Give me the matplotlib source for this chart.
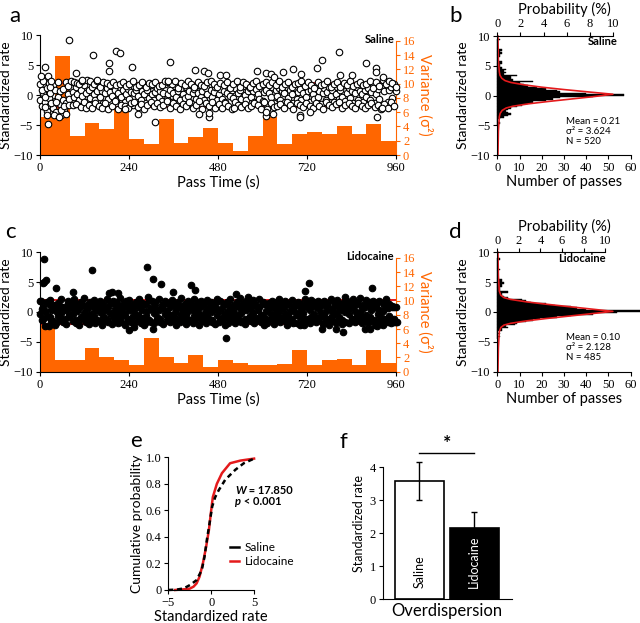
import numpy as np
import matplotlib.pyplot as plt

plt.rcParams['font.family'] = 'serif'
plt.rcParams['font.serif'] = ['Liberation Serif', 'Times New Roman', 'DejaVu Serif']
SANS = ['Lato', 'DejaVu Sans']
SERIF = ['Liberation Serif', 'DejaVu Serif']
ORANGE = '#ff6600'
RED = '#e41a1c'

# ---------- panels a / c : standardized rate per pass ----------
bulk_times = [
    1, 5, 9, 14, 18, 23, 27, 31, 36, 40,
    44, 49, 53, 57, 62, 66, 71, 75, 79, 84,
    88, 92, 97, 101, 106, 110, 114, 119, 123, 127,
    132, 136, 141, 145, 149, 154, 158, 162, 167, 171,
    176, 180, 184, 189, 193, 197, 202, 206, 211, 215,
    219, 224, 228, 232, 237, 241, 246, 250, 254, 259,
    263, 267, 272, 276, 281, 285, 289, 294, 298, 302,
    307, 311, 316, 320, 324, 329, 333, 337, 342, 346,
    351, 355, 359, 364, 368, 372, 377, 381, 386, 390,
    394, 399, 403, 407, 412, 416, 421, 425, 429, 434,
    438, 442, 447, 451, 456, 460, 464, 469, 473, 477,
    482, 486, 491, 495, 499, 504, 508, 512, 517, 521,
    526, 530, 534, 539, 543, 547, 552, 556, 561, 565,
    569, 574, 578, 582, 587, 591, 596, 600, 604, 609,
    613, 617, 622, 626, 631, 635, 639, 644, 648, 652,
    657, 661, 666, 670, 674, 679, 683, 687, 692, 696,
    701, 705, 709, 714, 718, 722, 727, 731, 736, 740,
    744, 749, 753, 757, 762, 766, 771, 775, 779, 784,
    788, 792, 797, 801, 806, 810, 814, 819, 823, 827,
    832, 836, 841, 845, 849, 854, 858, 862, 867, 871,
    876, 880, 884, 889, 893, 897, 902, 906, 911, 915,
    919, 924, 928, 932, 937, 941, 946, 950, 954, 959]

saline_rate_a = [
    -0.8, -1.9, 0.3, -1.2, -2.6, -0.5, -1.7, 0.6, -2.2, -1.0,
    -2.9, -0.4, -1.5, -3.4, -0.9, -2.4, -1.3, 0.2, -0.7, 1.2,
    0.5, -0.3, 1.4, 0.1, -0.9, 0.8, -0.2, 1.6, 0.4, -1.1,
    0.9, -0.5, 1.3, 0.2, -0.8, 0.6, 1.9, -0.3, 0.7, -1.4,
    0.3, 1.1, -0.6, 0.5, -0.2, 1.5, 0.9, -0.9, 0.4, 1.3,
    -0.4, 0.8, -1.1, 0.2, 1.0, -0.7, 0.5, -1.6, 0.3, 0.9,
    -0.2, 1.4, -0.9, 0.6, 0.1, -1.3, 0.8, -0.5, 1.7, 0.2,
    -0.8, 0.5, 1.2, -0.3, 0.7, -1.0, 0.4, 1.8, -0.6, 0.1,
    0.9, -1.2, 0.3, 1.5, -0.4, 0.6, -0.9, 1.1, 0.2, -0.5,
    1.3, -0.2, 0.7, -1.4, 0.4, 1.0, -0.7, 0.3, 1.6, -0.3,
    0.6, -0.9, 1.2, 0.1, -1.5, 0.8, -0.4, 0.5, 1.4, -0.8,
    0.2, 1.0, -0.6, 0.7, -1.1, 0.4, 1.3, -0.2, 0.9, -0.5,
    1.1, -1.3, 0.3, 0.8, -0.7, 1.5, 0.0, -0.9, 0.6, 1.2,
    -0.4, 0.7, -1.2, 1.0, 0.2, -0.6, 1.6, -1.0, 0.5, 0.9,
    -1.8, 0.4, -0.3, 1.3, -1.4, 0.8, -0.2, 1.1, -0.9, 0.6,
    0.3, -1.1, 1.4, -0.5, 0.9, 0.1, -1.3, 1.2, -0.6, 0.5,
    1.0, -0.8, 0.4, 1.7, -0.3, 0.6, -1.2, 0.9, 0.2, -0.7,
    1.2, -0.4, 0.7, -1.5, 0.3, 1.1, -0.9, 0.5, 1.4, -0.2,
    0.8, -1.1, 0.2, 1.3, -0.6, 0.9, -0.3, 1.6, -1.0, 0.4,
    1.1, -0.5, 0.6, -1.3, 0.3, 1.4, -0.8, 0.7, 0.1, -1.2,
    0.9, -0.4, 1.2, -0.9, 0.5, 1.8, -1.4, 0.2, 1.0, -0.6,
    1.5, -1.7, 0.6, 2.1, -1.1, 0.8, 1.3, -0.5, 1.9, 0.7]

saline_rate_b = [
    1.8, 0.9, 2.3, -0.3, 1.1, 2.0, 0.4, -1.4, 1.6, 0.8,
    -1.2, 2.1, 0.7, -2.5, 1.0, -1.8, 2.2, 1.5, -1.6, 2.3,
    -1.7, 2.2, -1.5, 2.0, 1.8, -2.0, 2.4, -1.1, -2.1, 2.5,
    -1.6, 2.3, -2.2, 1.9, -1.3, 2.4, -1.9, 1.4, -2.1, 2.2,
    -1.4, 2.0, -2.3, 1.7, -1.8, 2.1, -1.0, 1.6, -2.4, 1.9,
    -1.7, 2.2, -1.9, 1.5, -2.1, 1.8, -1.4, 2.3, -1.2, 1.3,
    -2.0, 1.6, -1.5, 2.1, -2.3, 1.4, -1.7, 2.0, -1.1, 1.9,
    -1.9, 2.2, -1.3, 1.5, -2.0, 1.7, -1.6, 2.4, -1.0, 2.1,
    -2.2, 1.8, -1.4, 2.3, -1.9, 1.2, -2.3, 2.0, -1.5, 1.6,
    -1.8, 2.4, -1.2, 1.9, -2.1, 1.3, -1.6, 2.2, -1.0, 1.7,
    -2.3, 1.5, -1.4, 2.1, -1.9, 2.3, -1.1, 1.8, -2.2, 1.4,
    -1.5, 2.0, -2.1, 1.6, -1.3, 2.2, -1.8, 1.2, -2.4, 1.9,
    -1.2, 2.3, -1.7, 1.4, -2.0, 2.1, -1.5, 1.8, -2.2, 1.3,
    -1.9, 2.0, -1.4, 2.4, -1.6, 1.5, -2.3, 1.9, -1.1, 2.2,
    -2.4, 1.7, -1.3, 2.1, -2.0, 1.6, -1.8, 2.3, -1.5, 1.4,
    -2.1, 1.9, -1.2, 2.2, -1.7, 1.3, -2.4, 1.8, -1.4, 2.0,
    -1.6, 2.3, -2.0, 1.5, -1.3, 2.1, -1.9, 1.7, -2.2, 1.2,
    -1.4, 2.2, -1.8, 1.6, -2.3, 1.9, -1.1, 2.4, -1.7, 1.3,
    -2.0, 1.8, -1.5, 2.1, -1.2, 1.4, -2.2, 2.0, -1.6, 1.7,
    -1.3, 2.3, -1.9, 1.5, -2.1, 1.8, -1.4, 2.2, -1.8, 1.6,
    -2.2, 1.9, -1.6, 2.4, -1.3, 1.2, -2.0, 2.1, -1.7, 1.5,
    -2.4, 2.5, -1.5, 1.8, -2.1, 2.3, -1.2, 2.0, -1.9, 1.4]

saline_out_t = [2, 13, 22, 27, 30, 22, 13, 20, 38, 51, 78, 70, 96, 112, 143,
                154, 186, 186, 204, 217, 248, 228, 265, 311, 350, 344, 417, 441,
                453, 486, 501, 430, 457, 457, 522, 586, 610, 622, 630, 609, 610,
                627, 656, 681, 704, 700, 700, 728, 746, 760, 806, 809, 842, 879,
                905, 905, 908, 925, 921]
saline_out_r = [3.1, 4.6, 3.2, 1.3, 2.3, -4.8, -2.0, -3.3, -3.3, -3.6, 9.2, -3.1,
                3.7, 2.5, 6.7, 2.5, 5.4, 4.0, 7.4, 7.0, 4.6, -2.4, -3.1, -4.5,
                5.5, 2.3, 4.2, 4.0, 3.6, 3.3, 3.3, -3.2, -3.6, -3.0, -2.2, 4.0,
                3.7, 3.5, 3.0, -3.5, -2.8, -3.1, 3.9, 4.3, 3.5, -3.3, -3.7, -2.8,
                4.5, 5.8, 7.2, 3.3, 3.3, 5.3, 4.5, 3.9, -3.7, 3.0, -2.2]

lido_rate_a = [
    -0.3, 0.5, -1.2, 0.2, -0.6, 1.3, -0.9, 0.4, -1.5, 0.8,
    0.1, -0.7, 1.0, -0.2, 0.6, -1.1, 0.3, 1.4, -0.5, 0.7,
    -0.4, 0.9, -1.3, 0.2, 0.6, -0.8, 1.1, -0.1, 0.5, -1.0,
    0.8, -0.3, 1.2, -0.7, 0.4, -1.4, 0.7, 0.0, 1.0, -0.6,
    0.3, -1.1, 0.9, -0.2, 1.5, -0.8, 0.5, -0.4, 1.2, 0.1,
    -0.9, 0.6, -0.3, 1.1, -1.2, 0.4, 0.8, -0.6, 0.2, 1.3,
    -0.5, 0.9, -1.0, 0.3, 1.4, -0.7, 0.1, -1.3, 0.7, 0.5,
    -0.2, 1.0, -0.8, 0.4, -1.1, 0.6, 1.2, -0.4, 0.2, -0.9,
    0.8, -0.5, 1.1, -0.1, 0.5, -1.2, 0.9, -0.3, 0.3, 1.4,
    -0.7, 0.2, -1.4, 0.7, 0.4, -0.6, 1.0, -0.2, 0.6, -1.0,
    1.2, -0.4, 0.3, -0.9, 0.8, 0.0, -1.3, 0.5, 1.1, -0.5,
    0.4, -1.1, 0.7, -0.3, 1.3, -0.8, 0.2, 0.9, -0.6, 0.1,
    -0.4, 1.0, -0.9, 0.6, -0.2, 1.2, -1.2, 0.3, 0.7, -0.7,
    0.5, -0.1, 1.1, -1.0, 0.3, 0.8, -0.5, 1.4, -0.8, 0.2,
    -1.3, 0.6, -0.4, 0.9, -0.9, 0.1, 1.0, -0.6, 0.4, -1.1,
    0.7, -0.3, 1.3, -0.7, 0.2, -1.2, 0.8, 0.0, -0.5, 1.1,
    -0.9, 0.4, -0.2, 1.0, -1.4, 0.6, 0.3, -0.8, 1.2, -0.4,
    0.9, -1.0, 0.5, -0.3, 1.1, -0.7, 0.2, 1.3, -1.2, 0.4,
    -0.6, 0.8, -0.1, 1.2, -0.9, 0.3, -1.3, 0.7, 0.0, 1.0,
    -0.4, 0.6, -1.1, 0.9, 0.2, -0.7, 1.4, -0.2, 0.5, -1.0,
    0.8, -0.5, 1.1, -0.9, 0.3, 0.6, -1.3, 1.0, -0.3, 0.4,
    -0.8, 0.2, 1.2, -1.1, 0.7, -0.6, -1.5, 0.9, -1.2, -1.7]

lido_rate_b = [
    1.8, -1.4, 0.9, -2.3, 1.6, -0.9, 2.0, -1.7, 1.2, 0.6,
    -1.9, 1.5, -1.1, 2.2, -1.6, 0.8, -2.0, 1.9, -0.8, 1.7,
    -1.5, 2.1, -1.8, 1.3, -2.1, 1.7, -1.2, 2.3, -1.6, 1.1,
    -2.0, 1.6, -1.3, 2.0, -1.9, 1.2, -1.5, 1.8, -2.2, 1.4,
    -1.4, 2.2, -1.7, 1.5, -2.0, 1.9, -1.1, 1.6, -1.8, 2.3,
    -1.6, 1.4, -2.1, 1.8, -1.3, 2.0, -1.7, 1.2, -1.9, 1.7,
    -1.2, 2.1, -1.8, 1.5, -2.2, 1.3, -1.5, 2.0, -1.6, 1.9,
    -1.9, 1.6, -1.3, 2.2, -1.7, 1.1, -2.0, 1.8, -1.4, 1.5,
    -1.7, 2.0, -1.2, 1.4, -2.1, 1.7, -1.6, 2.3, -1.3, 1.2,
    -2.0, 1.8, -1.5, 1.3, -1.8, 2.1, -1.1, 1.6, -2.2, 1.9,
    -1.4, 1.5, -1.9, 2.0, -1.2, 1.7, -1.7, 1.3, -2.0, 2.2,
    -1.6, 1.9, -1.3, 1.4, -2.1, 1.6, -1.8, 2.1, -1.5, 1.2,
    -1.9, 1.7, -1.4, 2.3, -1.6, 1.3, -2.0, 1.8, -1.2, 1.5,
    -1.5, 2.0, -1.9, 1.2, -1.3, 2.2, -1.7, 1.6, -2.1, 1.4,
    -1.8, 1.5, -1.2, 1.9, -2.0, 1.7, -1.4, 2.1, -1.6, 1.3,
    -1.3, 1.8, -2.2, 1.4, -1.5, 2.0, -1.8, 1.2, -1.9, 1.7,
    -2.1, 1.3, -1.6, 2.2, -1.2, 1.5, -1.9, 2.0, -1.4, 1.6,
    -1.7, 1.9, -1.3, 1.4, -2.0, 1.8, -1.5, 1.2, -2.2, 2.1,
    -1.4, 1.6, -1.8, 2.0, -1.1, 1.3, -2.0, 1.7, -1.6, 1.9,
    -1.9, 1.4, -1.2, 2.1, -1.7, 1.5, -1.4, 2.3, -1.8, 1.2,
    -1.5, 2.0, -1.9, 1.6, -1.3, 1.8, -2.1, 1.4, -1.6, 1.9,
    -2.0, 1.5, -1.4, 2.2, -1.7, 1.3, -1.8, 1.0, -1.6, 0.9]

lido_out_t = [12, 8, 15, 12, 43, 4, 24, 40, 141, 90, 186, 195, 210, 289, 305,
              325, 292, 305, 282, 239, 253, 358, 408, 419, 502, 528, 562, 715,
              724, 712, 760, 797, 816, 876, 890, 896, 822, 845, 955, 962, 908, 925]
lido_out_r = [8.9, 4.9, 5.4, 5.1, 4.0, 1.8, -2.3, -2.1, 7.0, 3.4, 3.2, 3.4, 3.2,
              7.6, 5.5, 4.6, 2.5, -2.8, -1.9, -3.1, -2.5, 3.4, 4.5, 3.6, -4.4,
              3.0, 2.5, 3.5, 4.8, -2.2, -2.8, -2.8, -3.3, -2.8, -2.8, 4.0, 2.5,
              1.8, 0.9, -1.7, -2.3, -2.1]

# variance per 40 s window
var_bin_start = [0, 40, 80, 120, 160, 200, 240, 280, 320, 360, 400, 440,
                 480, 520, 560, 600, 640, 680, 720, 760, 800, 840, 880, 920]
saline_var = [5.3, 13.9, 2.6, 4.5, 3.7, 6.7, 2.2, 1.5, 5.0, 1.7, 2.5, 3.8,
              1.7, 0.6, 2.7, 5.3, 1.5, 3.0, 3.2, 2.9, 4.1, 2.9, 4.4, 1.9]
lido_var = [6.7, 1.7, 1.7, 3.4, 2.0, 1.7, 1.0, 4.7, 2.1, 1.2, 2.4, 0.6,
            1.6, 1.2, 0.9, 0.9, 1.1, 3.1, 1.0, 1.6, 1.8, 1.0, 3.0, 1.2]

# ---------- panels b / d : histograms ----------
BIN_W = 0.25
saline_hist_start = -5.0
saline_hist = [0, 1, 0, 0, 1, 3, 5, 6, 5, 4, 5, 6, 9, 11, 14, 16, 22, 25, 28, 43,
               57, 40, 28, 27, 22, 18, 14, 12, 10, 16, 7, 6, 6, 9, 3, 4, 3, 4, 2, 1,
               1, 2, 2, 0, 0, 0, 1, 1, 2, 1, 2, 0, 0, 0, 0, 0, 0, 1]
lido_hist_start = -4.5
lido_hist = [0, 1, 0, 1, 0, 2, 2, 5, 4, 8, 9, 13, 16, 19, 27, 33, 43, 54, 64, 40,
             36, 33, 26, 22, 15, 13, 11, 5, 3, 2, 2, 5, 1, 1, 1, 2, 2, 3, 2, 2,
             0, 0, 0, 0, 0, 0, 1, 0, 0, 0, 0, 0, 0, 1]
saline_fit_r = [-10, -6, -3.6, -3.0, -2.5, -2.1, -1.8, -1.4, -1.0, -0.6, -0.2, 0.21,
                0.6, 1.0, 1.4, 1.8, 2.2, 2.5, 2.9, 3.4, 4.0, 6, 10]
saline_fit_n = [0.3, 0.5, 0.9, 1.3, 2.2, 4, 7, 14, 23, 33, 43, 52,
                41, 30, 20, 12, 6, 3.5, 2, 1.2, 0.9, 0.5, 0.3]
lido_fit_r = [-10, -6, -3.3, -2.6, -2.2, -1.9, -1.5, -1.1, -0.7, -0.3, 0.1,
              0.5, 0.9, 1.3, 1.7, 2.1, 2.4, 2.8, 3.5, 6, 10]
lido_fit_n = [0.3, 0.5, 0.9, 1.6, 3, 6, 13, 22, 32, 42, 52,
              42, 32, 22, 13, 6, 3, 1.6, 0.9, 0.5, 0.3]
saline_stats = ('0.21', '3.624', 520)
lido_stats = ('0.10', '2.128', 485)

# ---------- panel e : cumulative distributions ----------
saline_cdf_x = [-5.0, -4.0, -3.2, -2.4, -1.7, -1.1, -0.78, -0.5, -0.2, 0.12,
                0.47, 0.86, 1.63, 2.8, 3.8, 5.0]
saline_cdf_y = [0.0, 0.003, 0.012, 0.04, 0.075, 0.15, 0.25, 0.38, 0.5, 0.63,
                0.70, 0.75, 0.83, 0.905, 0.955, 0.99]
lido_cdf_x = [-4.2, -3.2, -2.5, -2.06, -1.7, -1.36, -0.97, -0.58, -0.27, -0.04,
              0.19, 0.66, 1.25, 2.2, 3.4, 5.0]
lido_cdf_y = [0.0, 0.005, 0.01, 0.025, 0.05, 0.1, 0.2, 0.33, 0.45, 0.58,
              0.70, 0.80, 0.88, 0.955, 0.975, 0.99]
cdf_yticks = [0, 0.2, 0.4, 0.6, 0.8, 1.0]
cdf_yticklabels = ['0', '0.2', '0.4', '0.6', '0.8', '1.0']

# ---------- panel f : overdispersion ----------
groups = ['Saline', 'Lidocaine']
overdisp = [3.58, 2.17]
overdisp_err = [0.57, 0.48]

fig = plt.figure(figsize=(6.4, 6.23), dpi=100)


def style(ax):
    for s in ['top', 'right']:
        ax.spines[s].set_visible(False)
    ax.tick_params(direction='out', length=3, width=0.8, labelsize=9, pad=2)


def time_panel(rect, rate_a, rate_b, out_t, out_r, var, face, label):
    ax = fig.add_axes(rect)
    axv = ax.twinx()
    ax.set_zorder(axv.get_zorder() + 1)
    ax.patch.set_visible(False)
    axv.bar(var_bin_start, var, width=40, align='edge', color=ORANGE, lw=0)
    axv.set_ylim(0, 16.8)
    axv.set_yticks(range(0, 17, 2))
    for s in ['top', 'left', 'bottom']:
        axv.spines[s].set_visible(False)
    axv.spines['right'].set_color(ORANGE)
    axv.spines['right'].set_bounds(0, 16)
    axv.tick_params(direction='out', length=3, width=0.8, labelsize=9, pad=2,
                    colors=ORANGE)
    axv.set_ylabel('Variance (σ²)', color=ORANGE, rotation=270, va='bottom',
                   family=SANS, fontsize=10.5, labelpad=1)

    ax.axhline(1.96, color=RED, lw=1.4, zorder=2)
    ax.axhline(-1.96, color=RED, lw=1.4, zorder=2)
    kw = dict(s=22, facecolor=face, edgecolor='black', linewidths=0.8,
              zorder=3, clip_on=False)
    ax.scatter(bulk_times, rate_a, **kw)
    ax.scatter(bulk_times, rate_b, **kw)
    ax.scatter(out_t, out_r, **kw)
    ax.set_xlim(0, 960)
    ax.set_ylim(-10, 10)
    ax.set_xticks([0, 240, 480, 720, 960])
    ax.set_yticks([-10, -5, 0, 5, 10])
    style(ax)
    ax.set_xlabel('Pass Time (s)', family=SANS, fontsize=10.5, labelpad=1)
    ax.set_ylabel('Standardized rate', family=SANS, fontsize=10, labelpad=1)
    ax.text(955, 9.3, label, ha='right', va='center', fontweight='bold',
            family=SANS, fontsize=8)


def hist_panel(rect, start, counts, fit_r, fit_n, stats, label, label_x):
    ax = fig.add_axes(rect)
    edges = start + BIN_W * np.arange(len(counts))
    ax.barh(edges, counts, height=BIN_W, align='edge', color='black',
            edgecolor='black', lw=0.3, clip_on=False)
    ax.plot(fit_n, fit_r, color=RED, lw=1.2, clip_on=False)
    ax.set_xlim(0, 60)
    ax.set_ylim(-10, 10)
    ax.set_xticks(range(0, 61, 10))
    ax.set_yticks([-10, -5, 0, 5, 10])
    style(ax)
    ax.set_xlabel('Number of passes', family=SANS, fontsize=10.5, labelpad=1)
    ax.set_ylabel('Standardized rate', family=SANS, fontsize=10, labelpad=1)
    top = ax.twiny()
    top.set_xlim(0, 60 / stats[2] * 100)
    top.set_xticks(range(0, 11, 2))
    for s in ['bottom', 'left', 'right']:
        top.spines[s].set_visible(False)
    top.spines['top'].set_bounds(0, 10)
    top.tick_params(direction='out', length=3, width=0.8, labelsize=9, pad=1)
    top.set_xlabel('Probability (%)', family=SANS, fontsize=10.5, labelpad=3)
    ax.text(label_x, 9.0, label, ha='right', va='center', fontweight='bold',
            family=SANS, fontsize=8)
    ax.text(31, -6.0, f'Mean = {stats[0]}\nσ² = {stats[1]}\nN = {stats[2]}',
            ha='left', va='center', family=SANS, fontsize=7, linespacing=1.15)


time_panel([0.0625, 0.7512, 0.5563, 0.1926], saline_rate_a, saline_rate_b,
           saline_out_t, saline_out_r, saline_var, 'white', 'Saline')
time_panel([0.0625, 0.4034, 0.5563, 0.1917], lido_rate_a, lido_rate_b,
           lido_out_t, lido_out_r, lido_var, 'black', 'Lidocaine')
hist_panel([0.777, 0.7512, 0.2084, 0.191], saline_hist_start, saline_hist,
           saline_fit_r, saline_fit_n, saline_stats, 'Saline', 54)
hist_panel([0.777, 0.4034, 0.2084, 0.1917], lido_hist_start, lido_hist,
           lido_fit_r, lido_fit_n, lido_stats, 'Lidocaine', 49)

# panel e
ax = fig.add_axes([0.263, 0.053, 0.134, 0.213])
ax.plot(saline_cdf_x, saline_cdf_y, color='black', lw=1.8, ls=(0, (2, 1.5)),
        label='Saline', clip_on=False, zorder=3)
ax.plot(lido_cdf_x, lido_cdf_y, color=RED, lw=1.8, label='Lidocaine',
        clip_on=False, zorder=2)
ax.set_xlim(-5, 5)
ax.set_ylim(0, 1.0)
ax.set_xticks([-5, 0, 5])
ax.set_yticks(cdf_yticks)
ax.set_yticklabels(cdf_yticklabels)
style(ax)
ax.set_xlabel('Standardized rate', family=SANS, fontsize=10.5, labelpad=1)
ax.set_ylabel('Cumulative probability', family=SANS, fontsize=10, labelpad=2)
t1 = ax.text(0.78, 0.75, 'W', transform=ax.transAxes, fontweight='bold',
             style='italic', family=SANS, fontsize=8, va='center')
ax.annotate(' = 17.850', xy=(1, 0), xycoords=t1, va='bottom',
            fontweight='bold', family=SANS, fontsize=8)
t2 = ax.text(0.78, 0.67, 'p', transform=ax.transAxes, fontweight='bold',
             style='italic', family=SANS, fontsize=8, va='center')
ax.annotate(' < 0.001', xy=(1, 0), xycoords=t2, va='bottom',
            fontweight='bold', family=SANS, fontsize=8)
leg = ax.legend(loc='lower left', bbox_to_anchor=(0.66, 0.14), frameon=False,
                handlelength=0.8, handletextpad=0.5, labelspacing=0.2,
                prop={'family': SANS, 'size': 8.5}, borderaxespad=0)
for h in leg.get_lines():
    h.set_linestyle('-')

# panel f
ax = fig.add_axes([0.598, 0.038, 0.2016, 0.2437])
ax.bar([0, 1], overdisp, width=0.89, color=['white', 'black'],
       edgecolor='black', lw=1.2, yerr=overdisp_err, capsize=2,
       error_kw=dict(lw=1, capthick=1, ecolor='black'))
ax.set_xlim(-0.664, 1.681)
ax.set_ylim(0, 4.6)
ax.set_xticks([])
ax.set_yticks([0, 1, 2, 3, 4])
style(ax)
ax.spines['left'].set_bounds(0, 4)
ax.set_ylabel('Standardized rate', family=SANS, fontsize=9, labelpad=3)
ax.set_xlabel('Overdispersion', family=SANS, fontsize=12, labelpad=3)
ax.text(0, 0.35, groups[0], rotation=90, ha='center', va='bottom',
        family=SANS, fontsize=9, color='black')
ax.text(1, 0.35, groups[1], rotation=90, ha='center', va='bottom',
        family=SANS, fontsize=9, color='white')
ax.plot([0, 1], [4.42, 4.42], color='black', lw=1, clip_on=False)
ax.text(0.5, 4.47, '*', ha='center', va='bottom', family=SANS, fontsize=14,
        fontweight='bold')

# panel letters
for letter, x, y in [('a', 0.023, 0.975), ('b', 0.712, 0.975),
                     ('c', 0.016, 0.627), ('d', 0.712, 0.627),
                     ('e', 0.213, 0.292), ('f', 0.536, 0.29)]:
    fig.text(x, y, letter, ha='center', va='center', family=SANS, fontsize=16)

# make sure every tick label is drawn in the serif face
fig.canvas.draw()
for a in fig.axes:
    for lab in a.get_xticklabels() + a.get_yticklabels():
        lab.set_family(SERIF)

fig.savefig('out.png', dpi=100)
